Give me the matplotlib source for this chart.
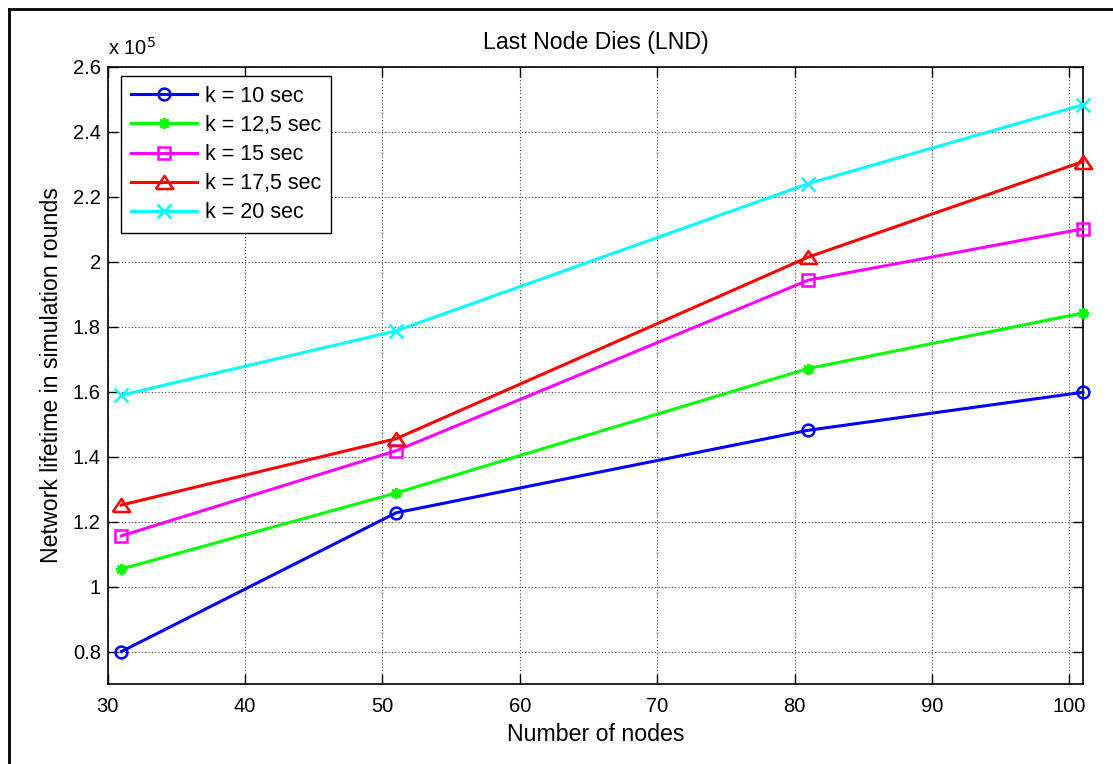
import matplotlib
matplotlib.use("Agg")
import matplotlib.pyplot as plt
from matplotlib.lines import Line2D
from matplotlib.ticker import FuncFormatter, MultipleLocator

plt.rcParams['font.family'] = ['Liberation Sans', 'DejaVu Sans']

# Network lifetime (rounds) against node count, one series per period k
nodes = [31, 51, 81, 101]
k_10 = [80000, 122700, 148100, 159800]
k_12_5 = [105400, 128800, 167100, 184200]
k_15 = [115600, 141800, 194300, 210100]
k_17_5 = [125100, 145500, 201400, 230800]
k_20 = [158900, 178700, 224000, 248300]

labels = ['k = 10 sec', 'k = 12,5 sec', 'k = 15 sec', 'k = 17,5 sec', 'k = 20 sec']
colors = ['#0000ff', '#00ff00', '#ff00ff', '#ff0000', '#00ffff']

# MATLAB-like wide triangle and eight-spoke asterisk
tri = [(-1, -0.75), (1, -0.75), (0, 0.75), (-1, -0.75)]
markers = ['o', (8, 2, 0), 's', tri, 'x']
msizes = [8.5, 8, 9, 12.5, 10]

W, H = 1113, 764
fig = plt.figure(figsize=(W / 100, H / 100), dpi=100)
ax = fig.add_axes([107.7 / W, 1 - 684 / H, (1083 - 107.7) / W, (684 - 66.7) / H])

series = [k_10, k_12_5, k_15, k_17_5, k_20]
for ys, lab, c, m, ms in zip(series, labels, colors, markers, msizes):
    ax.plot(nodes, ys, color=c, lw=2.2, marker=m, ms=ms, mfc='none',
            mec=c, mew=1.8, label=lab, clip_on=False, zorder=3)

ax.set_xlim(30, 101)
ax.set_ylim(70000, 260000)
ax.xaxis.set_major_locator(MultipleLocator(10))
ax.yaxis.set_major_locator(MultipleLocator(20000))
ax.yaxis.set_major_formatter(FuncFormatter(lambda v, p: f"{v / 1e5:g}"))

ax.grid(True, color='#404040', linestyle=(0, (1, 2)), linewidth=0.8)
ax.tick_params(direction='in', length=7.2, width=1, top=True, right=True,
               labelsize=14.5, colors='black')
ax.tick_params(axis='x', pad=9)
ax.tick_params(axis='y', pad=5)
for s in ax.spines.values():
    s.set_linewidth(1.2)

ax.set_title('Last Node Dies (LND)', fontsize=16.7, pad=13)
ax.set_xlabel('Number of nodes', fontsize=16.7, labelpad=5.5)
ax.set_ylabel('Network lifetime in simulation rounds', fontsize=16.7, labelpad=7)

ax.text(0.0, 1.012, r'x 10$^{5}$', transform=ax.transAxes, fontsize=14.5,
        ha='left', va='bottom')

leg = ax.legend(loc='upper left', bbox_to_anchor=(13.3 / 975.3, 1 - 9.3 / 617.3),
                fontsize=15.5, handlelength=3.1, handletextpad=0.36,
                borderpad=0.45, labelspacing=0.38, borderaxespad=0,
                fancybox=False, framealpha=1, edgecolor='black')
leg.get_frame().set_linewidth(1.0)

# Outer frame around the figure
fig.add_artist(Line2D([9 / W, 1.0], [1 - 9 / H, 1 - 9 / H], color='black', lw=2,
                      transform=fig.transFigure))
fig.add_artist(Line2D([9 / W, 9 / W], [0.0, 1 - 9 / H], color='black', lw=2,
                      transform=fig.transFigure))

fig.savefig('out.png', dpi=100, facecolor='white')
